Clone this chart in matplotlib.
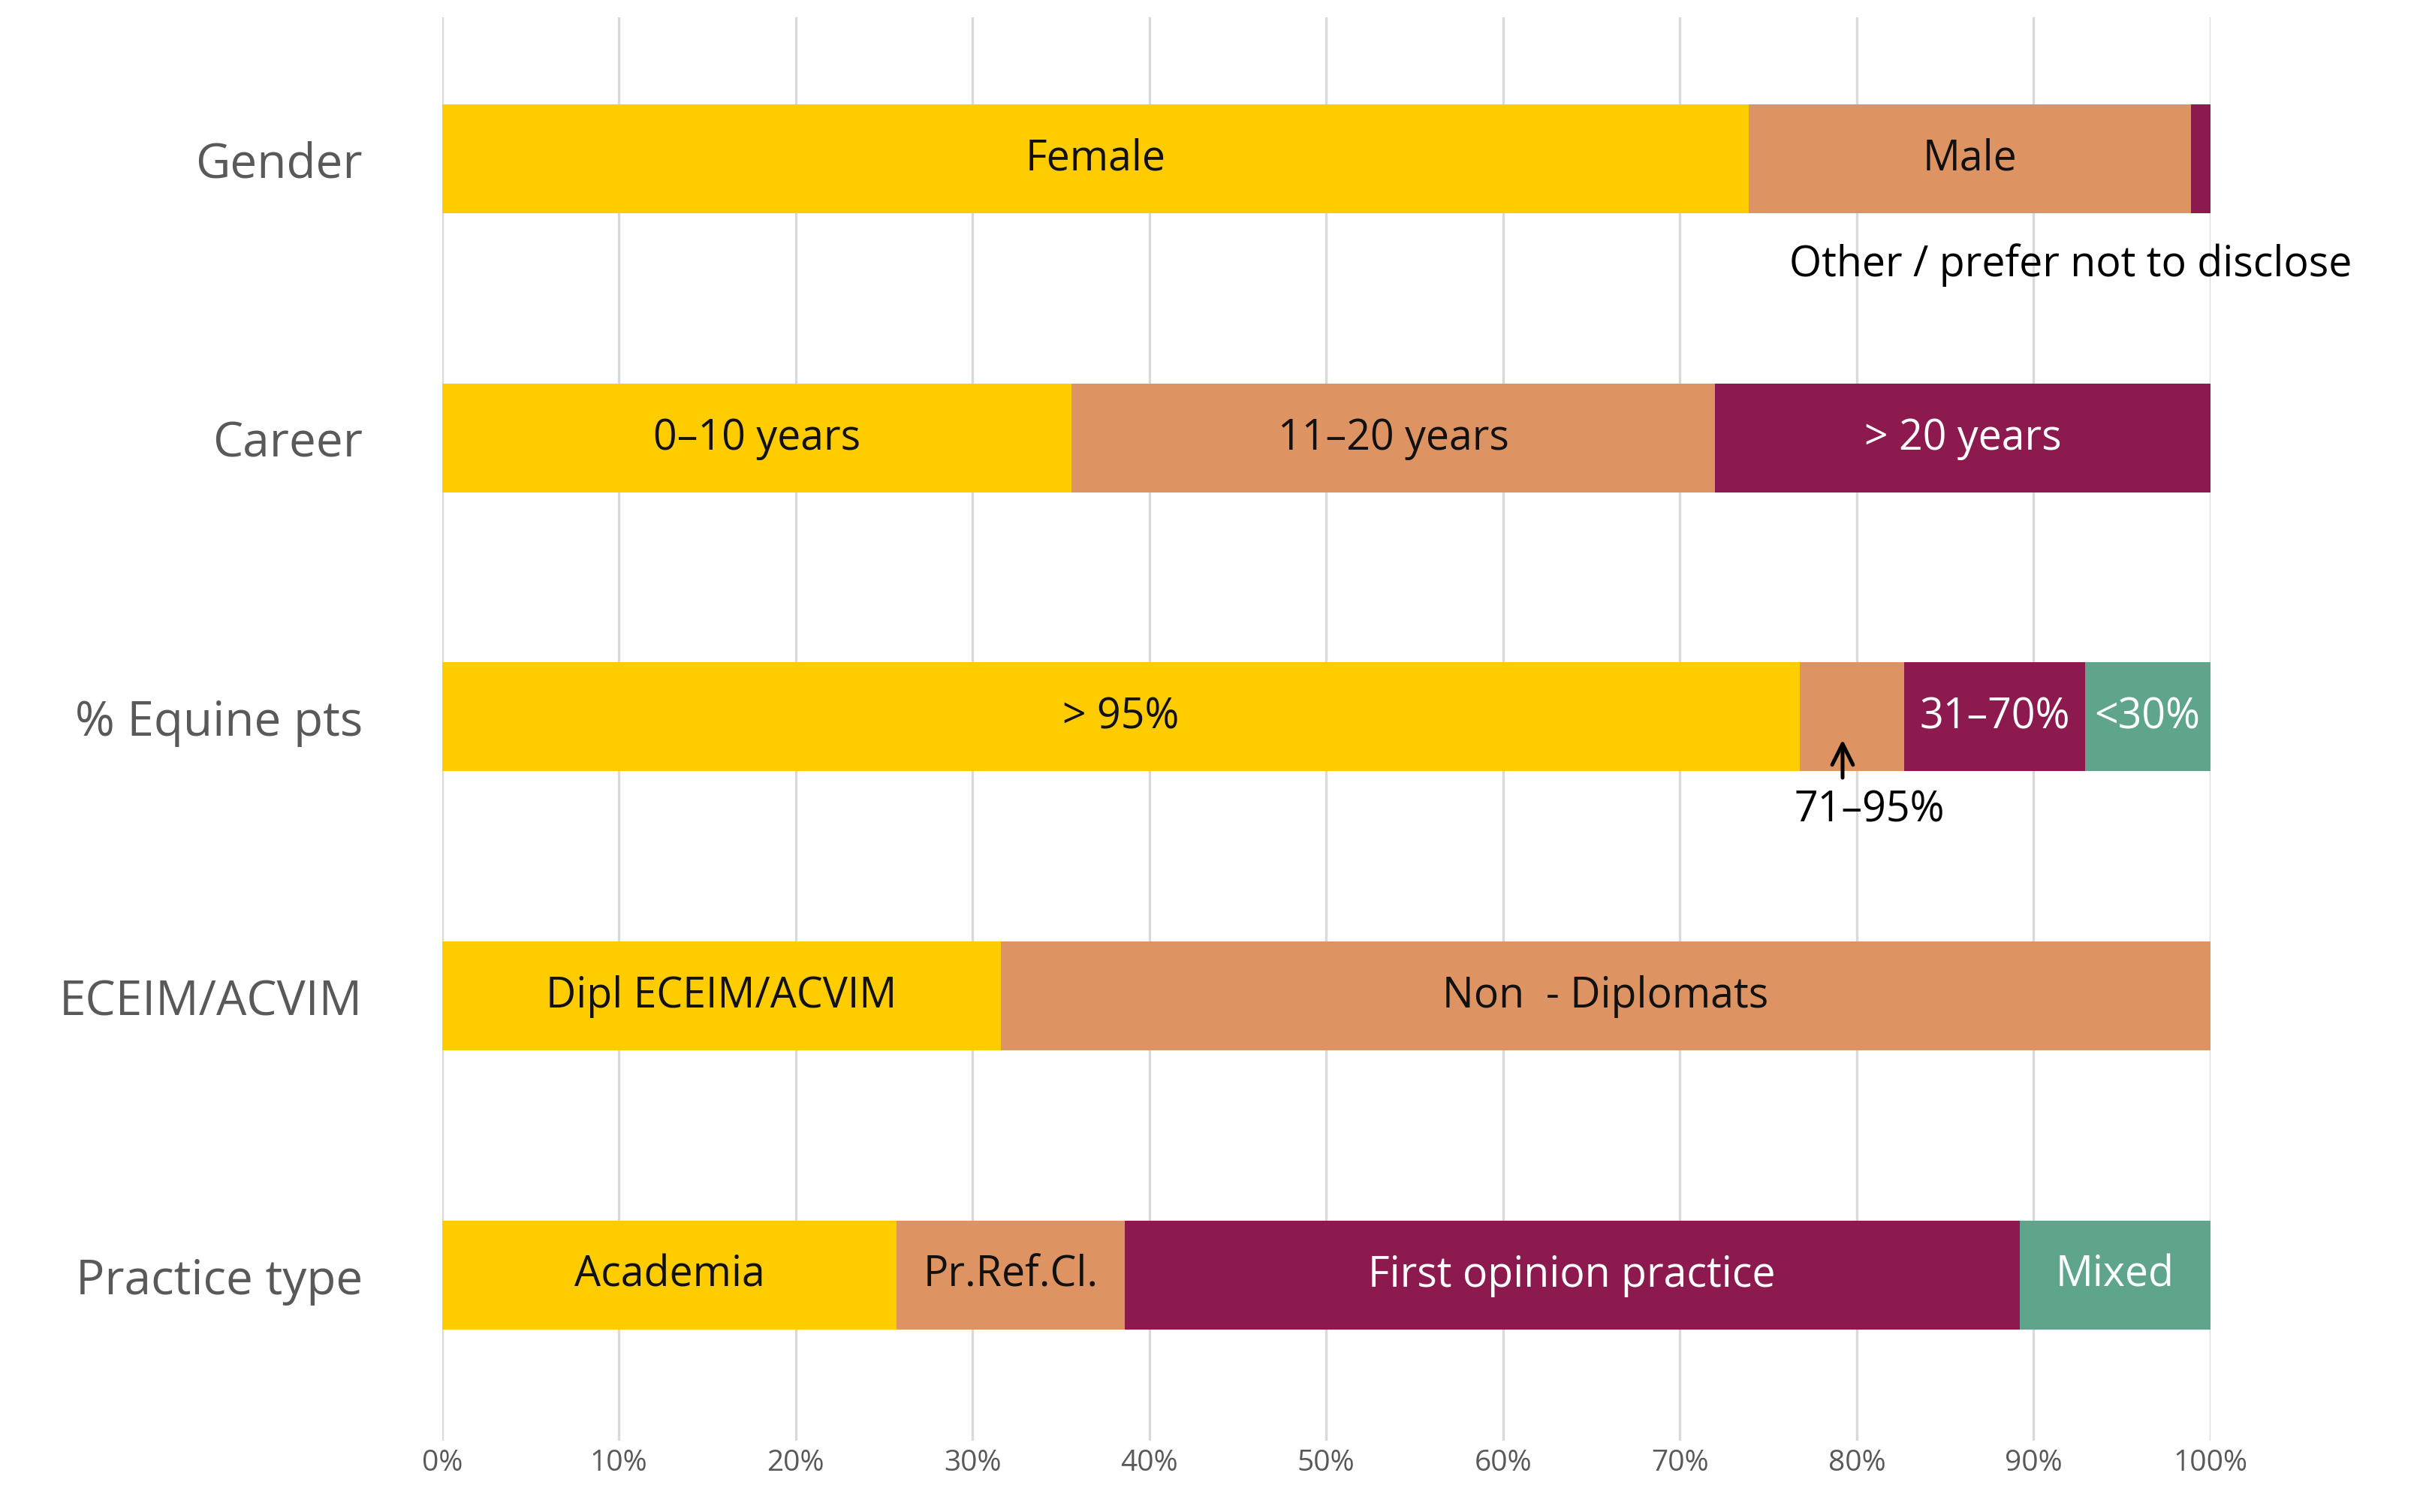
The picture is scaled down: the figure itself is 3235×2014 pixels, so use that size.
import numpy as np
import matplotlib.pyplot as plt

plt.rcParams['font.family'] = ['Open Sans', 'DejaVu Sans']

categories = ['Gender', 'Career', '% Equine pts', 'ECEIM/ACVIM', 'Practice type']
segments = [
    [73.9, 25.0, 1.1],
    [35.6, 36.4, 28.0],
    [76.8, 5.9, 10.2, 7.1],
    [31.6, 68.4],
    [25.7, 12.9, 50.6, 10.8],
]
labels = [
    ['Female', 'Male', ''],
    ['0–10 years', '11–20 years', '> 20 years'],
    ['> 95%', '', '31–70%', '<30%'],
    ['Dipl ECEIM/ACVIM', 'Non  - Diplomats'],
    ['Academia', 'Pr.Ref.Cl.', 'First opinion practice', 'Mixed'],
]
colors = ['#FFCC00', '#DE9462', '#8C1A4F', '#5EA58C']
text_colors = ['#111111', '#111111', 'white', 'white']

fig = plt.figure(figsize=(16.175, 10.075), dpi=200)
ax = fig.add_axes([0.182, 0.047, 0.728, 0.941])

for i, (segs, labs) in enumerate(zip(segments, labels)):
    left = 0
    for j, (w, lab) in enumerate(zip(segs, labs)):
        ax.barh(i, w, left=left, height=0.39, color=colors[j], zorder=2)
        if lab:
            ax.text(left + w / 2, i, lab, ha='center', va='center',
                    fontsize=20, color=text_colors[j], zorder=3)
        left += w

ax.annotate('', xy=(101.7, 0.056), xytext=(103.9, 0.194),
            arrowprops=dict(arrowstyle='->', color='black', lw=1.8, mutation_scale=25))
ax.text(92.1, 0.378, 'Other / prefer not to disclose', ha='center', va='center', fontsize=20)
ax.annotate('', xy=(79.2, 2.067), xytext=(79.2, 2.233),
            arrowprops=dict(arrowstyle='->', color='black', lw=1.8, mutation_scale=25))
ax.text(80.7, 2.333, '71–95%', ha='center', va='center', fontsize=20)

ax.set_xlim(0, 100)
ax.set_ylim(4.594, -0.506)
ax.set_xticks(np.arange(0, 101, 10))
ax.set_xticklabels([f'{v}%' for v in range(0, 101, 10)], fontsize=14, color='#595959')
ax.set_yticks(range(len(categories)))
ax.set_yticklabels(categories, fontsize=23, color='#595959')
ax.tick_params(length=0)
ax.tick_params(axis='y', pad=38)
ax.grid(axis='x', color='#D9D9D9', lw=1.2, zorder=0)
for s in ax.spines.values():
    s.set_visible(False)

plt.savefig('out.png', dpi=200)
plt.close()
